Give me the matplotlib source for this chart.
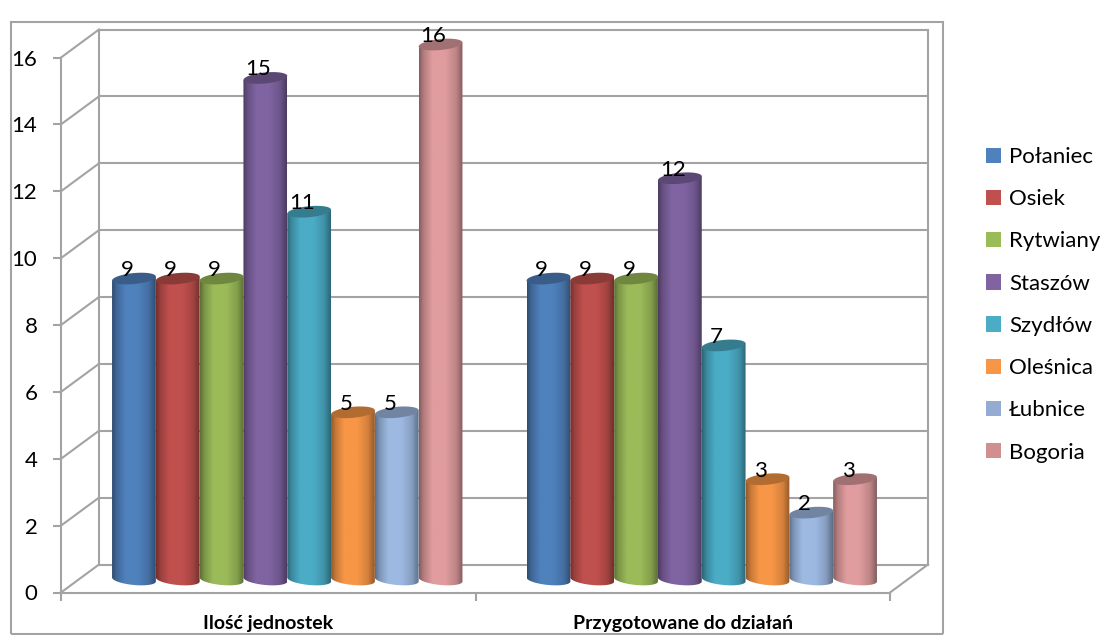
import numpy as np
import matplotlib
matplotlib.use("Agg")
import matplotlib.pyplot as plt
from matplotlib.patches import PathPatch, Patch, Rectangle
from matplotlib.path import Path

plt.rcParams['font.family'] = ['Lato', 'DejaVu Sans']

categories = ["Ilość jednostek", "Przygotowane do działań"]
names = ["Połaniec", "Osiek", "Rytwiany", "Staszów", "Szydłów", "Oleśnica", "Łubnice", "Bogoria"]
ilosc = [9, 9, 9, 15, 11, 5, 5, 16]
przygotowane = [9, 9, 9, 12, 7, 3, 2, 3]
bar_colors = ["#4F81BD", "#C0504D", "#9BBB59", "#8064A2", "#4BACC6", "#F79646", "#9DB9E2", "#E09C9E"]
legend_colors = ["#4F81BD", "#C0504D", "#9BBB59", "#8064A2", "#4BACC6", "#F79646", "#95ACD2", "#D09090"]
yticks = [0, 2, 4, 6, 8, 10, 12, 14, 16]

W, H = 1109, 637
GREY = "#A3A3A3"
LW = 1.5

# sizes in px
x0, x1 = 61, 890
y0, y16 = 592.5, 57.5
px_x = (x1 - x0) / 2.0
px_y = (y0 - y16) / 16.0
depth_x = 38 / px_x
depth_y = 28 / px_y
bar_w = 43.8 / px_x
bar_dx = 19 / px_x
bar_dy = 13 / px_y
ell_b = 5.5 / px_y
ell_k = 2.0 / px_y
ymax = 17.5


def shade(hex_color):
    rgb = np.array(matplotlib.colors.to_rgb(hex_color))
    pos = np.linspace(0, 1, 64)
    f = np.interp(pos, [0, .1, .3, .6, .85, 1], [.6, .8, 1, 1, .85, .6])
    return np.clip(f[:, None] * rgb, 0, 1)[None, :, :]


def cylinder(ax, cx, val, color, z):
    a = bar_w / 2
    top = val + bar_dy
    t = np.linspace(np.pi, 2 * np.pi, 40)
    xs = cx + a * np.cos(t)
    ys = bar_dy + ell_b * np.sin(t) + ell_k * np.cos(t) * -1
    verts = list(zip(xs, ys)) + [(cx + a, top + ell_k), (cx - a, top - ell_k), (xs[0], ys[0])]
    body = PathPatch(Path(verts), fc="none", ec="none", transform=ax.transData)
    ax.add_patch(body)
    im = ax.imshow(shade(color), extent=(cx - a, cx + a, 0, top + 1), aspect="auto", zorder=z, interpolation="bilinear")
    im.set_clip_path(body)
    t2 = np.linspace(0, 2 * np.pi, 80)
    cap_x = cx + a * np.cos(t2)
    cap_y = top + ell_b * np.sin(t2) + ell_k * np.cos(t2)
    cap = np.array(matplotlib.colors.to_rgb(color)) * .72
    ax.fill(cap_x, cap_y, color=cap, lw=0, zorder=z + .1)


fig = plt.figure(figsize=(W / 100, H / 100), dpi=100)
ax = fig.add_axes([x0 / W, (H - y0) / H, (x1 - x0) / W, ymax * px_y / H])
ax.patch.set_visible(False)

# outer chart border, behind the plot
fig.add_artist(Rectangle((10.5 / W, (H - 634) / H), 932 / W, 612.5 / H, fc="white", ec=GREY, lw=LW, zorder=-5))

# walls and floor
for v in yticks:
    ax.plot([depth_x, 2 + depth_x], [v + depth_y, v + depth_y], color=GREY, lw=LW, zorder=1, clip_on=False)
    ax.plot([0, depth_x], [v, v + depth_y], color=GREY, lw=LW, zorder=1, clip_on=False)
ax.plot([depth_x, depth_x], [depth_y, 16 + depth_y], color=GREY, lw=LW, zorder=1)
ax.plot([2 + depth_x, 2 + depth_x], [depth_y, 16 + depth_y], color=GREY, lw=LW, zorder=1, clip_on=False)
ax.plot([2, 2 + depth_x], [0, depth_y], color=GREY, lw=LW, zorder=1, clip_on=False)

n = len(names)
for g, vals in enumerate([ilosc, przygotowane]):
    for i, v in enumerate(vals):
        cx = g + .5 + bar_dx + (i - (n - 1) / 2) * bar_w
        cylinder(ax, cx, v, bar_colors[i], 3 + i * .2)
        ax.annotate(str(v), xy=(cx, v), xytext=(-5, 15.5), textcoords="offset points", ha="center", va="center",
                    fontsize=16, color="black", zorder=10, annotation_clip=False)

ax.set_xlim(0, 2)
ax.set_ylim(0, ymax)

for s in ["top", "right"]:
    ax.spines[s].set_visible(False)
for s in ["left", "bottom"]:
    ax.spines[s].set_color(GREY)
    ax.spines[s].set_linewidth(LW)
ax.spines["left"].set_bounds(0, 16)

ax.set_yticks(yticks)
ax.tick_params(axis="y", length=6, width=LW, color=GREY, labelsize=16, pad=11)
ax.set_xticks([0, 1, 2])
ax.set_xticklabels([])
ax.set_xticks([.5, 1.5], categories, minor=True, fontweight="bold")
ax.tick_params(axis="x", which="major", length=6, width=LW, color=GREY)
ax.tick_params(axis="x", which="minor", length=0, labelsize=14, pad=16)

handles = [Patch(fc=c, ec="none") for c in legend_colors]
fig.legend(handles, names, loc="upper left", bbox_to_anchor=(986 / W, (H - 147) / H), frameon=False, fontsize=16,
           borderpad=0, borderaxespad=0, handlelength=.68, handleheight=.68, handletextpad=.36, labelspacing=1.0)

# category labels are cut off by the bottom of the border
fig.add_artist(Rectangle((0, 0), 1, (H - 634) / H, fc="white", ec="none", zorder=5))
fig.add_artist(Rectangle((10.5 / W, (H - 634.7) / H), 932 / W, 1.5 / H, fc=GREY, ec="none", zorder=6))

fig.savefig("out.png", dpi=100)
